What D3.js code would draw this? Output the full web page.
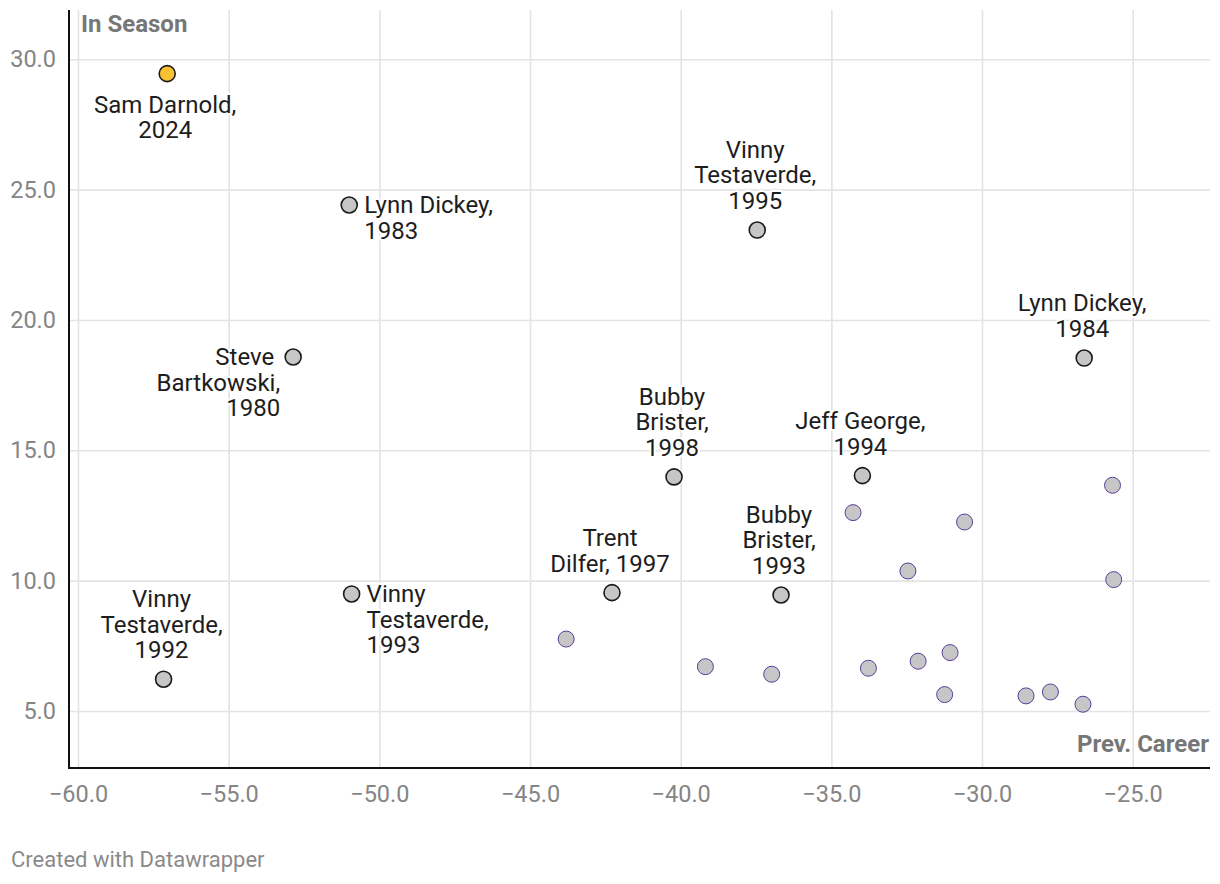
<!DOCTYPE html>
<html>
<head>
<meta charset="utf-8">
<script src="https://cdn.jsdelivr.net/npm/d3@7"></script>
<style>
  html, body { margin: 0; padding: 0; background: #fff; }
  svg { display: block; font-family: Roboto, "Noto Sans", sans-serif; }
</style>
</head>
<body>
<svg id="chart" width="1220" height="884"></svg>
<script>
// ---------- data ----------
const labeledNames = [
  "Sam Darnold,|2024",
  "Lynn Dickey,|1983",
  "Steve|Bartkowski,|1980",
  "Vinny|Testaverde,|1995",
  "Lynn Dickey,|1984",
  "Bubby|Brister,|1998",
  "Jeff George,|1994",
  "Trent|Dilfer, 1997",
  "Bubby|Brister,|1993",
  "Vinny|Testaverde,|1993",
  "Vinny|Testaverde,|1992"
];
const labeledPrevCareer = [-57.04, -51.0, -52.86, -37.46, -26.61, -40.22, -33.97, -42.28, -36.67, -50.92, -57.16];
const labeledInSeason   = [29.45, 24.41, 18.58, 23.45, 18.54, 13.98, 14.03, 9.54, 9.45, 9.49, 6.22];
const labelPlacement    = ["below", "right", "left", "above", "above", "above", "above", "above", "above", "right", "above"];
const highlighted       = [true, false, false, false, false, false, false, false, false, false, false];

const otherPrevCareer = [-43.80, -39.18, -36.98, -34.28, -30.58, -32.46, -25.67, -25.63, -33.77, -32.12, -31.06, -31.24, -28.54, -27.73, -26.65];
const otherInSeason   = [7.76, 6.70, 6.41, 12.61, 12.25, 10.37, 13.66, 10.04, 6.64, 6.91, 7.24, 5.63, 5.58, 5.73, 5.26];

const xTicks = [-60, -55, -50, -45, -40, -35, -30, -25];
const yTicks = [5, 10, 15, 20, 25, 30];
const xTitle = "Prev. Career";
const yTitle = "In Season";
const footer = "Created with Datawrapper";

// ---------- layout ----------
const plotLeft = 69, plotRight = 1210, plotTop = 10, plotBottom = 768;
const x = d3.scaleLinear().domain([-60, -25]).range([78, 1132.7]);
const y = d3.scaleLinear().domain([5, 30]).range([711, 59.3]);

const svg = d3.select("#chart");
const tickFont = 23.5, labelFont = 24;

// grid + y axis
const gy = svg.append("g").attr("transform", `translate(${plotLeft},0)`)
  .call(d3.axisLeft(y).tickValues(yTicks).tickFormat(d3.format(".1f"))
        .tickSize(-(plotRight - plotLeft)).tickPadding(13));
gy.select(".domain").remove();
gy.selectAll(".tick line").attr("stroke", "#e3e3e3").attr("stroke-width", 1.6);
gy.selectAll(".tick text").attr("fill", "#858585").attr("font-size", tickFont)
  .attr("font-family", "Roboto");

const gx = svg.append("g").attr("transform", `translate(0,${plotBottom})`)
  .call(d3.axisBottom(x).tickValues(xTicks).tickFormat(d3.format(".1f"))
        .tickSize(-(plotBottom - plotTop)).tickPadding(17));
gx.select(".domain").remove();
gx.selectAll(".tick line").attr("stroke", "#e3e3e3").attr("stroke-width", 1.6);
gx.selectAll(".tick text").attr("fill", "#858585").attr("font-size", tickFont)
  .attr("font-family", "Roboto");

// axis lines
svg.append("line").attr("x1", plotLeft).attr("x2", plotLeft)
  .attr("y1", plotTop).attr("y2", plotBottom + 1)
  .attr("stroke", "#111").attr("stroke-width", 2);
svg.append("line").attr("x1", plotLeft - 1).attr("x2", plotRight)
  .attr("y1", plotBottom).attr("y2", plotBottom)
  .attr("stroke", "#111").attr("stroke-width", 2);

// axis titles
svg.append("text").attr("x", plotLeft + 12).attr("y", 32)
  .attr("font-size", 24).attr("font-weight", 700).attr("fill", "#777")
  .text(yTitle);
svg.append("text").attr("x", plotRight - 1).attr("y", 752)
  .attr("text-anchor", "end")
  .attr("font-size", 24).attr("font-weight", 700).attr("fill", "#777")
  .text(xTitle);

// other points
svg.append("g").selectAll("circle")
  .data(otherPrevCareer.map((v, i) => ({ x: v, y: otherInSeason[i] })))
  .join("circle")
  .attr("cx", d => x(d.x)).attr("cy", d => y(d.y)).attr("r", 8)
  .attr("fill", "#c6c6c6").attr("stroke", "#5b3d9c").attr("stroke-width", 1);

// labeled points
const labeled = labeledNames.map((n, i) => ({
  lines: n.split("|"), x: labeledPrevCareer[i], y: labeledInSeason[i],
  place: labelPlacement[i], hi: highlighted[i]
}));
svg.append("g").selectAll("circle")
  .data(labeled).join("circle")
  .attr("cx", d => x(d.x)).attr("cy", d => y(d.y)).attr("r", 8)
  .attr("fill", d => d.hi ? "#f8c232" : "#c6c6c6")
  .attr("stroke", "#1a1a1a").attr("stroke-width", 1.6);

const lh = 25.6;
const lg = svg.append("g");
labeled.forEach(d => {
  const px = x(d.x), py = y(d.y);
  let anchor = "middle", tx = px, ty0;
  const n = d.lines.length;
  if (d.place === "above") { tx = px - 2; ty0 = py - 21 - (n - 1) * lh; }
  else if (d.place === "below") { tx = px - 2; ty0 = py + 39; }
  else if (d.place === "right") { anchor = "start"; tx = px + 15; ty0 = py + 8; }
  else { anchor = "end"; tx = px - 13; ty0 = py + 8; }
  d.lines.forEach((line, j) => {
    // left-placed labels keep a trailing space on all but the widest line
    const shift = (d.place === "left" && j === 0) ? -6 : 0;
    lg.append("text")
      .attr("x", tx + shift).attr("y", ty0 + j * lh)
      .attr("text-anchor", anchor)
      .attr("font-size", labelFont).attr("fill", "#1d1d1d")
      .attr("stroke", "#fff").attr("stroke-width", 4).attr("stroke-linejoin", "round")
      .attr("paint-order", "stroke")
      .text(line);
  });
});

// footer
svg.append("text").attr("x", 11).attr("y", 867)
  .attr("font-size", 22).attr("fill", "#8a8a8a").text(footer);
</script>
</body>
</html>
